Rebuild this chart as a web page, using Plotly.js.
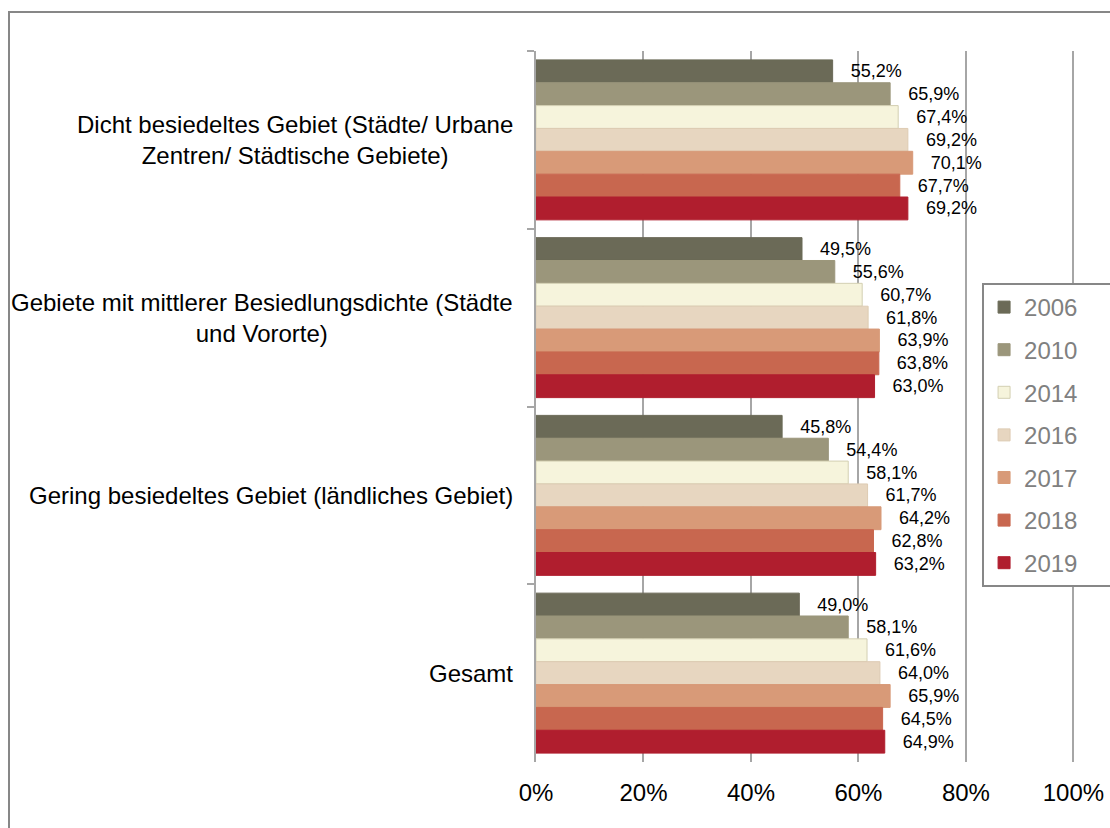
<!DOCTYPE html>
<html>
<head>
<meta charset="utf-8">
<script src="https://cdn.plot.ly/plotly-3.0.1.min.js"></script>
<style>
  html, body { margin: 0; padding: 0; background: #fff; overflow: hidden; }
  #wrap { position: relative; width: 1110px; height: 828px; overflow: hidden; }
  #chart { position: absolute; left: 0; top: 0; width: 1110px; height: 828px; }
  #frame { position: absolute; left: 8px; top: 11px; width: 1200px; height: 900px;
           border-left: 2px solid #878787; border-top: 2px solid #878787; pointer-events: none; }
</style>
</head>
<body>
<div id="wrap">
  <div id="chart"></div>
  <div id="frame"></div>
</div>
<script>
// ---- data ----
const categories = [
  "Dicht besiedeltes Gebiet (Städte/ Urbane<br>Zentren/ Städtische Gebiete)",
  "Gebiete mit mittlerer Besiedlungsdichte (Städte<br>und Vororte)",
  "Gering besiedeltes Gebiet (ländliches Gebiet)",
  "Gesamt"
];
const years = ["2006", "2010", "2014", "2016", "2017", "2018", "2019"];
const v2006 = [55.2, 49.5, 45.8, 49.0];
const v2010 = [65.9, 55.6, 54.4, 58.1];
const v2014 = [67.4, 60.7, 58.1, 61.6];
const v2016 = [69.2, 61.8, 61.7, 64.0];
const v2017 = [70.1, 63.9, 64.2, 65.9];
const v2018 = [67.7, 63.8, 62.8, 64.5];
const v2019 = [69.2, 63.0, 63.2, 64.9];
const seriesValues = [v2006, v2010, v2014, v2016, v2017, v2018, v2019];
const xTickValues = [0, 20, 40, 60, 80, 100];
const xTickLabels = ["0%", "20%", "40%", "60%", "80%", "100%"];

// ---- styles ----
const fillColors = ["#6b6a57", "#9b967b", "#f6f4dc", "#e7d6c0", "#d89a78", "#c8674f", "#b01e2e"];
const edgeColors = ["#6b6a57", "#9b967b", "#d3cfb2", "#ddcbb3", "#d89a78", "#c8674f", "#b01e2e"];
const FONT = "'Liberation Sans', Arial, sans-serif";
const GRID = "#a6a6a6";
const PAD = "\u00a0\u00a0\u00a0\u00a0\u00a0";

const traces = years.map((yr, i) => ({
  type: "bar",
  orientation: "h",
  name: yr + PAD,
  legendgroup: "g" + yr,
  x: seriesValues[i],
  y: categories,
  marker: { color: fillColors[i], line: { color: edgeColors[i], width: 1 } },
  texttemplate: "\u00a0\u00a0\u00a0%{x:.1f}%",
  textposition: "outside",
  textfont: { family: FONT, size: 18, color: "#000" },
  constraintext: "none",
  cliponaxis: false,
  hoverinfo: "skip"
}));

const annotations = categories.map(c => ({
  xref: "paper", yref: "y",
  x: -0.039, y: c,
  xanchor: "right", yanchor: "middle",
  align: "center",
  text: c,
  showarrow: false,
  font: { family: FONT, size: 24, color: "#000" }
}));

const XMAX = 100.3;

const layout = {
  width: 1110, height: 828,
  margin: { l: 536, r: 35.4, t: 51, b: 66, autoexpand: false },
  paper_bgcolor: "rgba(0,0,0,0)",
  plot_bgcolor: "rgba(0,0,0,0)",
  separators: ",.",
  barmode: "group",
  bargap: 0.1,
  bargroupgap: 0,
  showlegend: true,
  legend: {
    x: 0.8276, xanchor: "left",
    y: 0.6737, yanchor: "top",
    bgcolor: "#fff",
    bordercolor: "#878787", borderwidth: 2,
    font: { family: FONT, size: 24, color: "#808080" },
    traceorder: "grouped",
    tracegroupgap: 8.4
  },
  xaxis: {
    range: [0, XMAX],
    tickvals: xTickValues,
    ticktext: xTickLabels,
    showgrid: true, gridcolor: GRID, gridwidth: 2,
    zeroline: false, showline: false,
    ticks: "",
    tickfont: { family: FONT, size: 24, color: "#000" },
    ticklabelstandoff: 14,
    fixedrange: true
  },
  xaxis2: {
    overlaying: "x", side: "top", matches: "x",
    range: [0, XMAX],
    tickvals: xTickValues,
    showticklabels: false,
    ticks: "outside", ticklen: 7, tickwidth: 2, tickcolor: GRID,
    showgrid: false, zeroline: false, showline: false
  },
  yaxis: {
    type: "category",
    autorange: "reversed",
    showticklabels: false,
    tickson: "boundaries",
    ticks: "outside", ticklen: 7, tickwidth: 2, tickcolor: GRID,
    showline: true, linecolor: GRID, linewidth: 2,
    showgrid: false, zeroline: false,
    fixedrange: true
  },
  annotations: annotations,
  font: { family: FONT }
};

Plotly.newPlot("chart", traces, layout, { displayModeBar: false, staticPlot: true });
</script>
</body>
</html>
